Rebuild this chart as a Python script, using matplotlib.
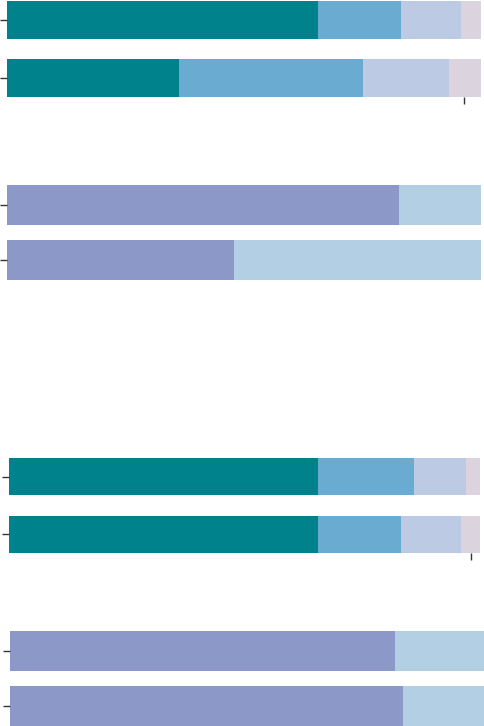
import matplotlib.pyplot as plt

# shares (%) per bar, stacked left to right
p1_bars = [[65.6, 17.5, 12.7, 4.2], [36.3, 38.8, 18.1, 6.8]]
p2_bars = [[82.7, 17.3], [47.9, 52.1]]
p3_bars = [[65.6, 20.4, 11.0, 3.0], [65.6, 17.6, 12.7, 4.0]]
p4_bars = [[81.2, 18.8], [82.9, 17.1]]
p1_marker = 96.5
p3_marker = 98.0

four_colors = ["#00828c", "#6aabd2", "#bccbe3", "#dbd3de"]
two_colors = ["#8c98c8", "#b3cfe4"]

W, H = 484, 726
fig = plt.figure(figsize=(W / 100, H / 100), dpi=100)


def panel(left, right, top, bottom, bars, colors, height, marker=None):
    ax = fig.add_axes([left / W, 1 - bottom / H, (right - left) / W, (bottom - top) / H])
    for i, vals in enumerate(bars):
        start = 0
        for v, c in zip(vals, colors):
            ax.barh(i, v, left=start, height=height, color=c, linewidth=0)
            start += v
    ax.set_xlim(0, 100)
    pad = (1 - height) / 2 + height / 2 - 0.5 + 0.5 * height
    ax.set_ylim(1 + height / 2, -height / 2)
    ax.set_yticks(range(len(bars)))
    ax.set_yticklabels([])
    if marker is not None:
        ax.set_xticks([marker])
    else:
        ax.set_xticks([])
    ax.set_xticklabels([])
    ax.tick_params(length=5, width=1, color="#333333")
    for s in ax.spines.values():
        s.set_visible(False)
    return ax


panel(7, 481, 1, 97, p1_bars, four_colors, 0.65, p1_marker)
panel(7, 481, 185, 280, p2_bars, two_colors, 0.73)
panel(9, 480, 458, 553, p3_bars, four_colors, 0.65, p3_marker)
panel(10, 484, 631, 726, p4_bars, two_colors, 0.73)

fig.savefig("out.png", dpi=100)
